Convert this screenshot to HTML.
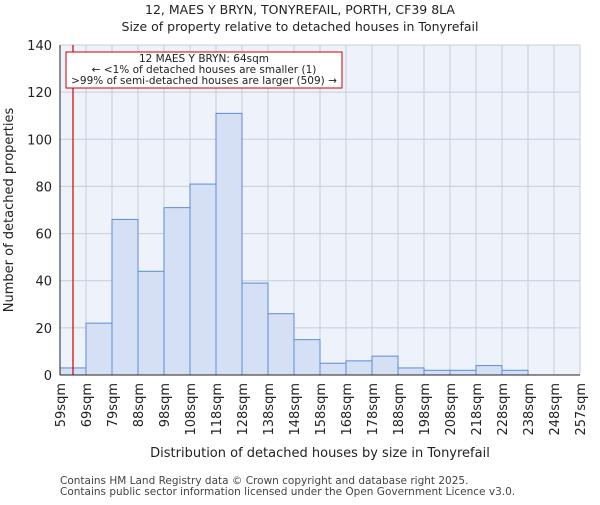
<!DOCTYPE html>
<html><head><meta charset="utf-8"><style>body{margin:0;background:#fff}svg{font-family:"DejaVu Sans","Liberation Sans",sans-serif}</style></head>
<body>
<svg id="c" width="600" height="500" xmlns="http://www.w3.org/2000/svg"></svg>
<script>
const categories=["59sqm","69sqm","79sqm","88sqm","98sqm","108sqm","118sqm","128sqm","138sqm","148sqm","158sqm","168sqm","178sqm","188sqm","198sqm","208sqm","218sqm","228sqm","238sqm","248sqm","257sqm"];
const counts=[3,22,66,44,71,81,111,39,26,15,5,6,8,3,2,2,4,2,0,0];
const yTicks=[0,20,40,60,80,100,120,140];
const propertySize=64;
const binStarts=[59,69,79,88,98,108,118,128,138,148,158,168,178,188,198,208,218,228,238,248,257];
const svg=document.getElementById('c');const NS='http://www.w3.org/2000/svg';
const L=60,R=580,T=45,B=375;
const bw=(R-L)/counts.length;
const y=v=>B-(v/140)*(B-T);
const xi=i=>L+i*bw;
function mk(t,a,p){const e=document.createElementNS(NS,t);for(const k in a)e.setAttribute(k,a[k]);(p||svg).appendChild(e);return e;}
let e=mk('rect',{x:L,y:T,width:R-L,height:B-T,fill:'#eef2fb'});

yTicks.forEach(v=>{let g=mk('line',{x1:L,x2:R,y1:y(v),y2:y(v),stroke:'#c8ccd6','stroke-width':1});
let t=mk('text',{x:L-8,y:y(v)+5,'text-anchor':'end','font-size':13,fill:'#222'});t.textContent=v;});
categories.forEach((c,i)=>{let g=mk('line',{x1:xi(i),x2:xi(i),y1:T,y2:B,stroke:'#c8ccd6','stroke-width':1});
let t=mk('text',{transform:`translate(${xi(i)+5},${B+8}) rotate(-90)`,'text-anchor':'end','font-size':13,fill:'#222'});t.textContent=c;});
counts.forEach((v,i)=>{let r=mk('rect',{x:xi(i),y:y(v),width:bw,height:B-y(v),fill:'#d6e0f5',stroke:'#5b8bd6','stroke-width':1});});
let bi=binStarts.findIndex((s,i)=>propertySize>=s&&propertySize<binStarts[i+1]);
let mx=xi(bi)+bw*(propertySize-binStarts[bi])/(binStarts[bi+1]-binStarts[bi]);
e=mk('line',{x1:mx,x2:mx,y1:T,y2:B,stroke:'#cc0000','stroke-width':1.2});
e=mk('rect',{x:66,y:52,width:276,height:36,fill:'#fff',stroke:'#cc0000','stroke-width':1});
["12 MAES Y BRYN: 64sqm","← <1% of detached houses are smaller (1)",">99% of semi-detached houses are larger (509) →"].forEach((s,i)=>{let t=mk('text',{x:204,y:62+i*11,'text-anchor':'middle','font-size':10.5,fill:'#222'});t.textContent=s;});
e=mk('line',{x1:L,x2:R,y1:B,y2:B,stroke:'#222'});
e=mk('line',{x1:L,x2:L,y1:T,y2:B,stroke:'#222'});
function txt(s,a,n){let t=mk('text',a);t.textContent=s;}
txt("12, MAES Y BRYN, TONYREFAIL, PORTH, CF39 8LA",{x:300,y:14,'text-anchor':'middle','font-size':12.5,fill:'#222'},'chart-title');
txt("Size of property relative to detached houses in Tonyrefail",{x:300,y:31,'text-anchor':'middle','font-size':12.5,fill:'#222'},'chart-subtitle');
txt("Distribution of detached houses by size in Tonyrefail",{x:320,y:457,'text-anchor':'middle','font-size':13,fill:'#222'},'x-axis-title');
txt("Number of detached properties",{transform:'translate(13,210) rotate(-90)','text-anchor':'middle','font-size':13,fill:'#222'},'y-axis-title');
txt("Contains HM Land Registry data © Crown copyright and database right 2025.",{x:60,y:484,'font-size':10.5,fill:'#444'},'footer-line-1');
txt("Contains public sector information licensed under the Open Government Licence v3.0.",{x:60,y:495,'font-size':10.5,fill:'#444'},'footer-line-2');
</script>
</body></html>
